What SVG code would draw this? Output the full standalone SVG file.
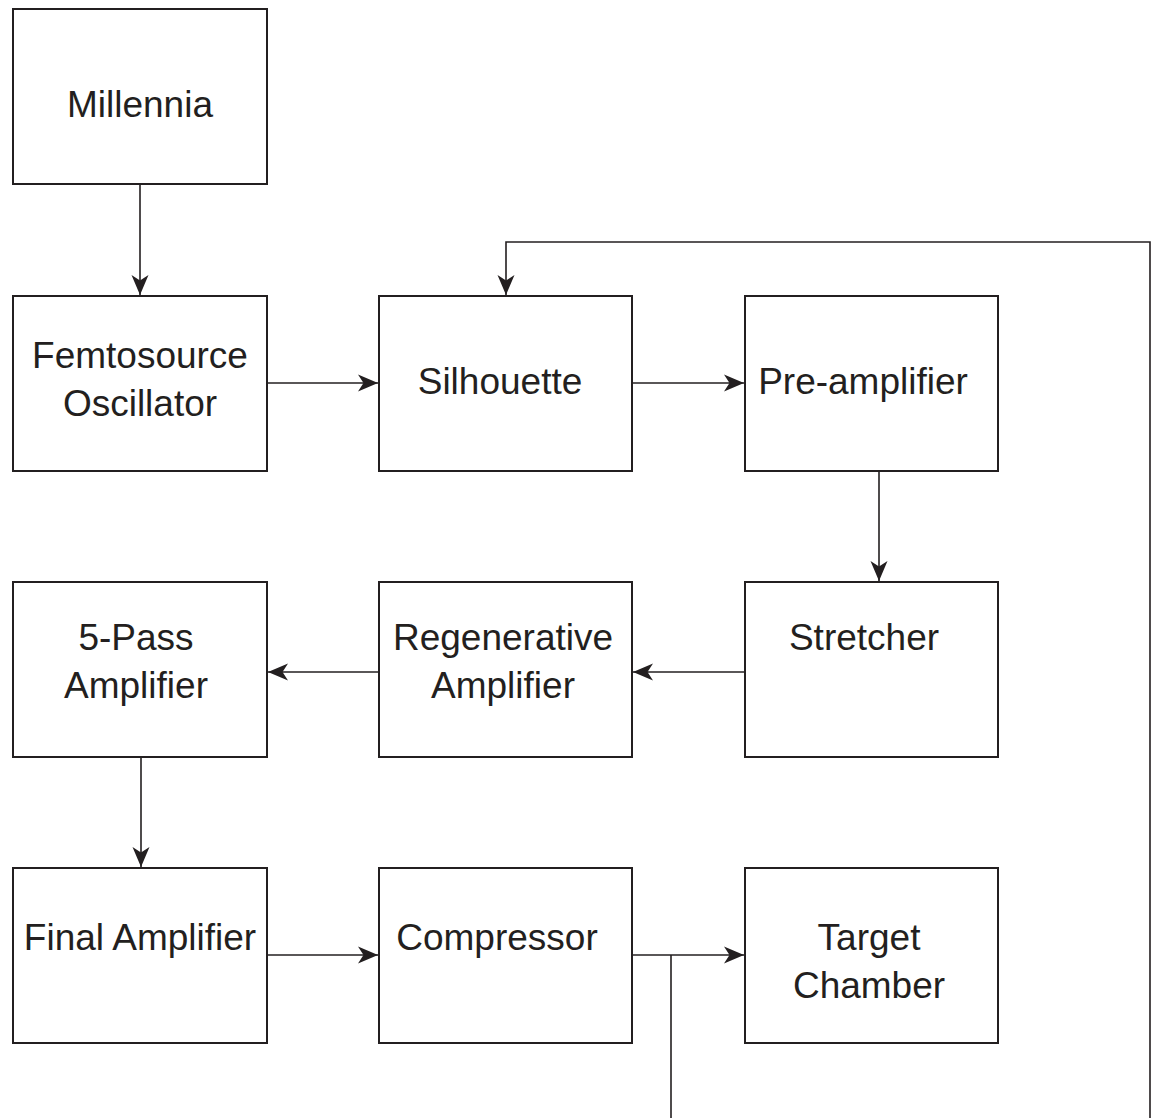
<svg xmlns="http://www.w3.org/2000/svg" width="1153" height="1118" viewBox="0 0 1153 1118">
<style>
.box{fill:#fff;stroke:#231f20;stroke-width:2}
.lbl{font-family:"Liberation Sans",Arial,sans-serif;font-size:37px;fill:#231f20;text-anchor:middle}
.con{fill:none;stroke:#231f20;stroke-width:1.6}
</style>
<defs>
<marker id="ah" viewBox="-20 -9 20 18" markerWidth="20" markerHeight="18" refX="0" refY="0" orient="auto" markerUnits="userSpaceOnUse">
<path d="M0,0 L-20,-8.5 L-14.5,0 L-20,8.5 Z" fill="#231f20"/>
</marker>
</defs>
<rect width="1153" height="1118" fill="#fff"/>
<g id="connectors">
<path class="con" d="M140,184 V295" marker-end="url(#ah)"/>
<path class="con" d="M267,383 H378" marker-end="url(#ah)"/>
<path class="con" d="M632,383 H744" marker-end="url(#ah)"/>
<path class="con" d="M879,471 V581" marker-end="url(#ah)"/>
<path class="con" d="M745,672 H633" marker-end="url(#ah)"/>
<path class="con" d="M379,672 H268" marker-end="url(#ah)"/>
<path class="con" d="M141,757 V867" marker-end="url(#ah)"/>
<path class="con" d="M267,955 H378" marker-end="url(#ah)"/>
<path class="con" d="M632,955 H744" marker-end="url(#ah)"/>
<path class="con" d="M671,955 V1118"/>
<path class="con" d="M1150,1118 V242 H506 V295" marker-end="url(#ah)"/>
</g>
<g id="millennia"><rect class="box" x="13" y="9" width="254" height="175"/><text class="lbl" x="140" y="117">Millennia</text></g>
<g id="femtosource"><rect class="box" x="13" y="296" width="254" height="175"/><text class="lbl" x="140" y="368">Femtosource</text><text class="lbl" x="140" y="416">Oscillator</text></g>
<g id="silhouette"><rect class="box" x="379" y="296" width="253" height="175"/><text class="lbl" x="500" y="394">Silhouette</text></g>
<g id="preamplifier"><rect class="box" x="745" y="296" width="253" height="175"/><text class="lbl" x="863" y="394">Pre-amplifier</text></g>
<g id="fivepass"><rect class="box" x="13" y="582" width="254" height="175"/><text class="lbl" x="136" y="650">5-Pass</text><text class="lbl" x="136" y="698">Amplifier</text></g>
<g id="regenerative"><rect class="box" x="379" y="582" width="253" height="175"/><text class="lbl" x="503" y="650">Regenerative</text><text class="lbl" x="503" y="698">Amplifier</text></g>
<g id="stretcher"><rect class="box" x="745" y="582" width="253" height="175"/><text class="lbl" x="864" y="650">Stretcher</text></g>
<g id="final"><rect class="box" x="13" y="868" width="254" height="175"/><text class="lbl" x="140" y="950">Final Amplifier</text></g>
<g id="compressor"><rect class="box" x="379" y="868" width="253" height="175"/><text class="lbl" x="497" y="950">Compressor</text></g>
<g id="target"><rect class="box" x="745" y="868" width="253" height="175"/><text class="lbl" x="869" y="950">Target</text><text class="lbl" x="869" y="998">Chamber</text></g>
</svg>
